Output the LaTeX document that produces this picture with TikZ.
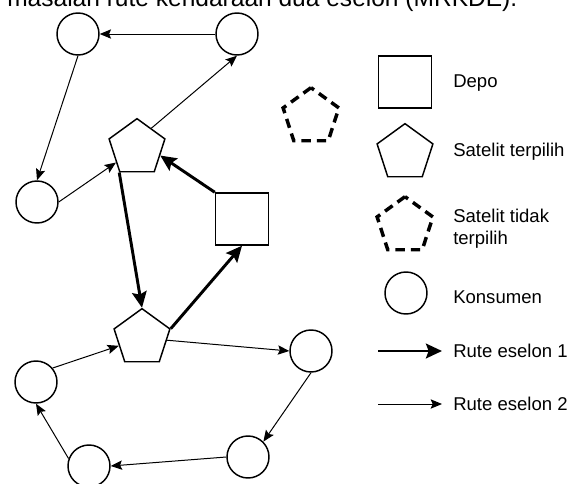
\documentclass[tikz,border=0pt]{standalone}
\usepackage{fontspec}
\setmainfont{Liberation Sans}
\usetikzlibrary{arrows.meta,shapes.geometric}

\begin{document}
\begin{tikzpicture}[
  x=0.75pt, y=-0.75pt,
  % === Node styles ===
  konsumen/.style={
    draw, circle, line width=1.1pt,
    minimum size=31.5pt, inner sep=0pt
  },
  satelit/.style={
    draw, regular polygon, regular polygon sides=5,
    line width=1.1pt, minimum size=44pt, inner sep=0pt
  },
  satoff/.style={
    satelit, line width=2.6pt, dash pattern=on 7pt off 4.5pt
  },
  depo/.style={
    draw, rectangle, line width=1.1pt,
    minimum width=39.75pt, minimum height=39pt, inner sep=0pt
  },
  % === Arrow styles ===
  eselonA/.style={-{Stealth[length=12pt, width=11pt, inset=2pt]}, line width=2.2pt},
  eselonB/.style={-{Stealth[length=8.5pt, width=7pt, inset=1.5pt]}, line width=0.75pt},
  % === Label styles ===
  lgdlbl/.style={font=\fontsize{13.9}{16.5}\selectfont, anchor=west, align=left, inner sep=0pt},
]

\clip (0,0) rectangle (568,483);
\useasboundingbox (0,0) rectangle (568,483);

% =============================================
% Caption line (cut off at the top)
% =============================================
\node[font=\fontsize{18.4}{22}\selectfont, anchor=base west, inner sep=0pt] (judul) at (7, 6)
  {masalah rute kendaraan dua eselon (MRKDE).};

% =============================================
% Upper cluster
% =============================================
\node[konsumen] (kTL) at (78, 34) {};
\node[konsumen] (kTR) at (237, 34) {};
\node[konsumen] (kL1) at (37, 202) {};
\node[satelit] (s1) at (137, 148) {};
\node[depo] (dp) at (242, 219) {};
\node[satoff] (s0) at (311, 117) {};

% =============================================
% Lower cluster
% =============================================
\node[satelit] (s2) at (142, 338) {};
\node[konsumen] (kR) at (311, 351) {};
\node[konsumen] (kL2) at (36, 382) {};
\node[konsumen] (kBR) at (248, 457) {};
\node[konsumen] (kBL) at (89, 466) {};

% =============================================
% Rute eselon 1: depo -> satelit
% =============================================
\draw[eselonA] (dp.north west) -- (s1.side 4);
\draw[eselonA] (s1.corner 3) -- (s2.corner 1);
\draw[eselonA] (s2.corner 5) -- (dp.south);

% =============================================
% Rute eselon 2: satelit -> konsumen
% =============================================
\draw[eselonB] (s1.side 5) -- (kTR.south);
\draw[eselonB] (kTR) -- (kTL);
\draw[eselonB] (kTL.south) -- (kL1.north);
\draw[eselonB] (kL1.east) -- (s1);

\draw[eselonB] (s2) -- (kR.west);
\draw[eselonB] (kR.south) -- (kBR.45);
\draw[eselonB] (kBR.west) -- (kBL.east);
\draw[eselonB] (kBL.160) -- (kL2.south);
\draw[eselonB] (kL2.40) -- (s2);

% =============================================
% Legend
% =============================================
\node[depo] (lgDepo) at (405, 82) {};
\node[lgdlbl] (txDepo) at (453, 83) {Depo};

\node[satelit] (lgSat) at (405, 153) {};
\node[lgdlbl] (txSat) at (453, 152) {Satelit terpilih};

\node[satoff] (lgOff) at (405, 226) {};
\node[lgdlbl] (txOff) at (453, 229) {Satelit tidak\\terpilih};

\node[konsumen] (lgKons) at (406, 293) {};
\node[lgdlbl] (txKons) at (453, 297) {Konsumen};

\coordinate (lgA1) at (378, 351);
\coordinate (lgA2) at (442, 351);
\draw[eselonA] (lgA1) -- (lgA2);
\node[lgdlbl] (txA) at (453, 351) {Rute eselon 1};

\coordinate (lgB1) at (378, 404);
\coordinate (lgB2) at (442, 404);
\draw[eselonB] (lgB1) -- (lgB2);
\node[lgdlbl] (txB) at (453, 404) {Rute eselon 2};

\end{tikzpicture}
\end{document}
